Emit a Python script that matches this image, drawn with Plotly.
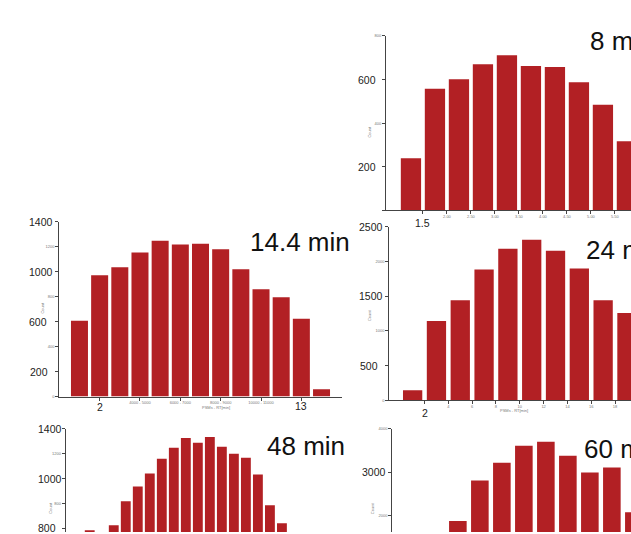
import plotly.graph_objects as go

W, H = 631, 534
RED = "#b22024"
AX = "#444444"
FONT = "Liberation Sans, Arial, sans-serif"

# ---------------- data ----------------
bins_8min = list(range(1, 11))
counts_8min = [239, 558, 602, 670, 712, 662, 658, 588, 485, 317]

bins_14min = list(range(1, 14))
counts_14min = [607, 972, 1036, 1155, 1250, 1219, 1226, 1181, 1020, 861, 797, 623, 58]

bins_24min = list(range(1, 11))
counts_24min = [143, 1143, 1443, 1886, 2186, 2314, 2157, 1900, 1443, 1257]

bins_48min = list(range(1, 21))
counts_48min = [350, 587, 560, 629, 820, 939, 1042, 1162, 1249, 1328, 1289, 1336,
                1257, 1201, 1170, 1034, 788, 645, 420, 180]

bins_60min = list(range(1, 12))
counts_60min = [150, 900, 1878, 2814, 3224, 3612, 3703, 3384, 2996, 3110, 2084]

titles = ["8 min", "14.4 min", "24 min", "48 min", "60 min"]

# tick labels
ytick_8 = [0, 200, 400, 600, 800]
ytxt_8 = ["", "", "400", "", "800"]
xtick_8 = [1.5, 2.5, 3.5, 4.5, 5.5, 6.5, 7.5, 8.5, 9.5]
xtxt_8 = ["", "2.00", "2.50", "3.00", "3.50", "4.00", "4.50", "5.00", "5.50"]

ytick_14 = [0, 200, 400, 600, 800, 1000, 1200, 1400]
ytxt_14 = ["0", "", "400", "", "800", "", "1200", ""]
xtick_14 = [2, 4, 6, 8, 10, 12]
xtxt_14 = ["", "4000 - 5000", "6000 - 7000", "8000 - 9000", "10000 - 11000", ""]

ytick_24 = [0, 500, 1000, 1500, 2000, 2500]
ytxt_24 = ["0", "", "1000", "", "2000", ""]
xtick_24 = [1.5, 2.5, 3.5, 4.5, 5.5, 6.5, 7.5, 8.5, 9.5]
xtxt_24 = ["", "4", "6", "8", "10", "12", "14", "16", "18"]

ytick_48 = [600, 800, 1000, 1200, 1400]
ytxt_48 = ["", "800", "", "1200", ""]

ytick_60 = [2000, 3000, 4000]
ytxt_60 = ["2000", "", "4000"]


def px(x):
    return x / W


def py(y):
    return 1 - y / H


fig = go.Figure()

panels = [
    # id, bins, counts, xdom(px), ydom(top,bottom px), xrange, yrange, barwidth
    ("", bins_8min, counts_8min, (386, 631), (33.3, 209.3), [-0.04, 10.17], [0, 800], 0.845),
    ("2", bins_14min, counts_14min, (59.3, 341.7), (221, 397.3), [0, 14], [0, 1400], 0.843),
    ("3", bins_24min, counts_24min, (389.3, 631), (226, 401), [0.02, 10.17], [0, 2500], 0.81),
    ("4", bins_48min, counts_48min, (65.7, 342), (430, 534), [0, 23], [574, 1400], 0.82),
    ("5", bins_60min, counts_60min, (392.3, 631), (430, 534), [0.02, 10.87], [1627, 4000], 0.80),
]

yticks = [(ytick_8, ytxt_8), (ytick_14, ytxt_14), (ytick_24, ytxt_24), (ytick_48, ytxt_48), (ytick_60, ytxt_60)]
xticks = [(xtick_8, xtxt_8), (xtick_14, xtxt_14), (xtick_24, xtxt_24), None, None]

layout = dict(
    width=W, height=H, margin=dict(l=0, r=0, t=0, b=0),
    paper_bgcolor="white", plot_bgcolor="white", showlegend=False,
    font=dict(family=FONT, color="#222"),
)

tiny = dict(family=FONT, size=4, color="#777")

for i, (sid, b, c, xd, yd, xr, yr, bw) in enumerate(panels):
    fig.add_trace(go.Bar(x=b, y=c, width=bw, marker=dict(color=RED, line=dict(width=0)),
                         xaxis="x" + sid, yaxis="y" + sid, hoverinfo="skip"))
    xa = dict(domain=[px(xd[0]), px(xd[1])], range=xr, anchor="y" + sid,
              showgrid=False, zeroline=False)
    if xticks[i] is not None:
        xa.update(showline=True, linecolor=AX, linewidth=1, ticks="outside", ticklen=3,
                  tickcolor=AX, tickvals=xticks[i][0], ticktext=xticks[i][1], tickfont=tiny,
                  ticklabelstandoff=-1)
    else:
        xa.update(showline=False, showticklabels=False, ticks="")
    ya = dict(domain=[py(yd[1]), py(yd[0])], range=yr, anchor="x" + sid,
              showgrid=False, zeroline=False, showline=True, linecolor=AX, linewidth=1,
              ticks="outside", ticklen=3, tickcolor=AX,
              tickvals=yticks[i][0], ticktext=yticks[i][1], tickfont=tiny)
    layout["xaxis" + sid] = xa
    layout["yaxis" + sid] = ya

fig.update_layout(**layout)

ann = []
big = dict(family=FONT, size=10.5, color="#222")

# big y labels: (left px, yref, value, text)
for left, yref, val, txt in [
    (356, "y", 600, "600"), (356, "y", 200, "200"),
    (26.7, "y2", 1400, "1400"), (26.7, "y2", 1000, "1000"), (26.7, "y2", 600, "600"), (27.5, "y2", 200, "200"),
    (356.7, "y3", 2500, "2500"), (356.7, "y3", 1500, "1500"), (358, "y3", 500, "500"),
    (35.7, "y4", 1400, "1400"), (35.7, "y4", 1000, "1000"), (35.7, "y4", 610, "800"),
    (360, "y5", 3000, "3000"),
]:
    ann.append(dict(xref="paper", x=px(left), xanchor="left", yref=yref, y=val, yanchor="middle",
                    text=txt, showarrow=False, font=big))

# big x labels: (xref, value, center y px, text)
for xref, val, ypx, txt in [
    ("x", 1.5, 221.7, "1.5"), ("x2", 2, 408.3, "2"), ("x2", 12, 406.7, "13"), ("x3", 1.5, 414.3, "2"),
]:
    ann.append(dict(xref=xref, x=val, xanchor="center", yref="paper", y=py(ypx), yanchor="middle",
                    text=txt, showarrow=False, font=big))

# panel titles
for left, ypx, txt in [(588, 38, titles[0]), (248, 241, titles[1]), (584, 249, titles[2]),
                       (264.7, 447, titles[3]), (582, 450, titles[4])]:
    ann.append(dict(xref="paper", x=px(left), xanchor="left", yref="paper", y=py(ypx), yanchor="middle",
                    text=txt, showarrow=False, font=dict(family=FONT, size=26, color="#111")))

# tiny axis titles
for xp, yp in [(370, 121.7), (38, 308), (369, 315), (46, 518), (372, 518)]:
    ann.append(dict(xref="paper", x=px(xp), yref="paper", y=py(yp), text="Count", textangle=-90,
                    showarrow=False, font=tiny))
for xp, yp in [(200, 412.5), (530, 416)]:
    ann.append(dict(xref="paper", x=px(xp), yref="paper", y=py(yp), text="PSMs - RT[min]",
                    showarrow=False, font=tiny))

fig.update_layout(annotations=ann)
fig.write_html("out.html", config={"displayModeBar": False},
               post_script="document.body.style.margin='0';document.body.style.overflow='hidden';")
